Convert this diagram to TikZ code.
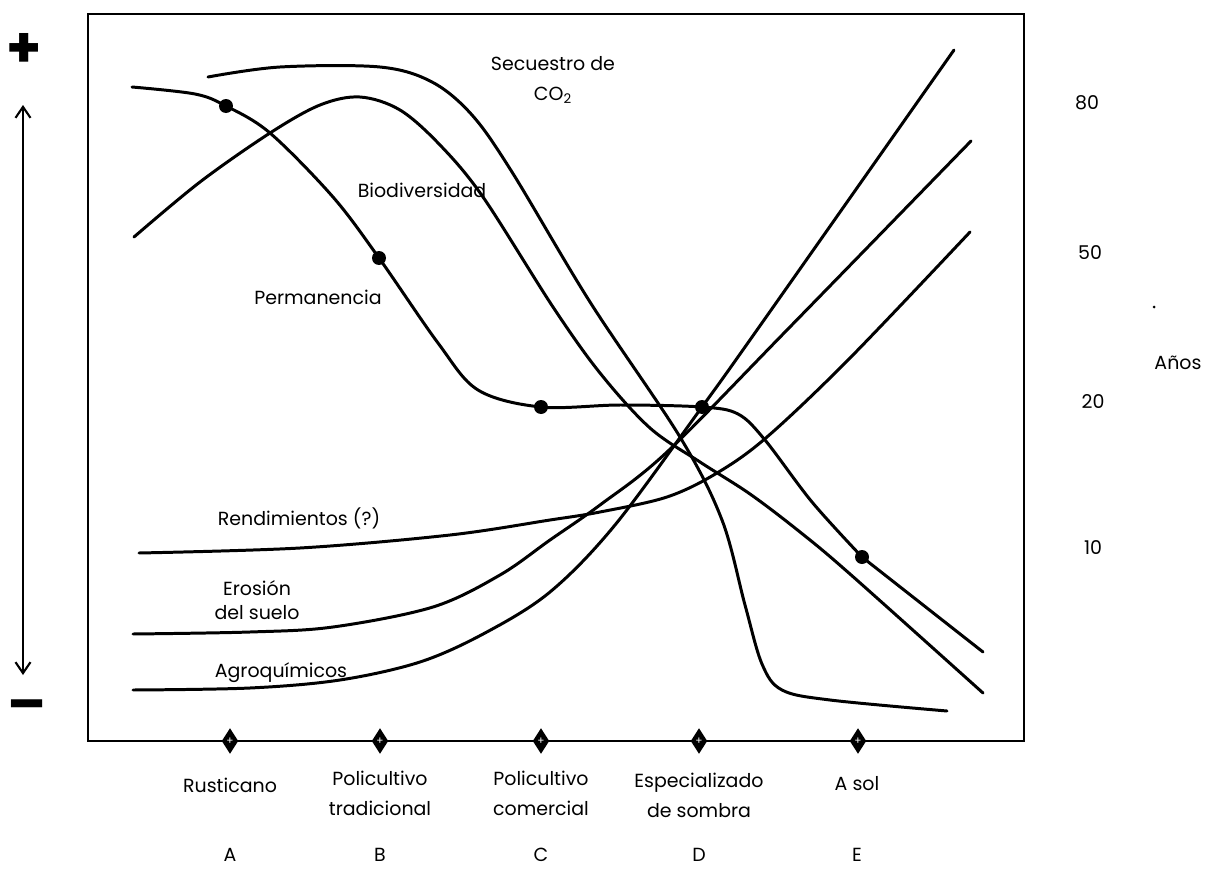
\documentclass[tikz,border=0pt]{standalone}
\usepackage{fontspec}
\setmainfont{Poppins}
\usepackage{tikz}
\usetikzlibrary{shapes.geometric}
\usetikzlibrary{arrows.meta}
\usetikzlibrary{positioning}

\begin{document}
\begin{tikzpicture}[x=0.02cm,y=-0.02cm,
	line width=1.7pt,
  curve/.style={line width=1.7pt,line cap=round,line join=round},
  dot/.style={circle,fill=black,inner sep=0pt,minimum size=0.28cm},
  tick/.style={diamond,draw,fill=black,line width=1pt,inner sep=0pt,
    minimum width=0.3cm,minimum height=0.46cm,
    font=\color{white}\fontsize{6}{6}\selectfont},
  lbl/.style={align=center,inner sep=0pt},
	font=\fontsize{10.8}{17}\selectfont]
  \useasboundingbox (0,0) rectangle (1205,869);

  \draw (88,14) rectangle (1024,741);

  \coordinate (pA) at (226,106);
  \coordinate (pB) at (379,258);
  \coordinate (pC) at (541,407);
  \coordinate (pD) at (702,407);
  \coordinate (pE) at (862,557);

  \draw[curve] plot[smooth,tension=0.55] coordinates {(132,87) (195,94) (pA)
    (270,133) (333,197) (pB) (438,343) (478,390) (pC) (620,405) (pD)
    (738,414) (765,440) (812,502) (pE)} -- (983,652);
  \draw[curve] plot[smooth,tension=0.55] coordinates {(208,77) (280,67)
    (380,67) (432,82) (472,115) (512,172) (590,302) (680,437) (722,520)
    (745,605) (762,664) (782,690) (830,700) (947,711)};
  \draw[curve] plot[smooth,tension=0.55] coordinates {(134,237) (200,182)
    (270,133) (320,105) (360,97) (400,110) (440,145) (483,197) (553,307)
    (600,373) (650,428) (700,462) (750,494) (800,532) (850,574) (983,693)};
  \draw[curve] plot[smooth,tension=0.55] coordinates {(139,553) (300,548)
    (450,535) (550,520) (600,512) (667,497) (717,473) (767,437) (850,358)
    (970,232)};
  \draw[curve] plot[smooth,tension=0.55] coordinates {(133,634) (250,632)
    (333,627) (433,607) (500,575) (550,540) (600,505) (667,452) (787,330)
    (971,141)};
  \draw[curve] plot[smooth,tension=0.55] coordinates {(133,690) (250,688)
    (340,680) (420,662) (485,633) (550,592) (615,525) (pD) (757,330)
    (954,50)};

  \foreach \p in {pA,pB,pC,pD,pE}
    \node[dot] at (\p) {};

  \node[lbl] (secuestro) at (553,80) {Secuestro de\\CO\textsubscript{2}};
  \node[lbl] (biodiv) at (422,190) {Biodiversidad};
  \node[lbl] (perman) at (318,297) {Permanencia};
  \node[lbl] (rendim) at (299,518) {Rendimientos (?)};
  \node[lbl,font=\fontsize{10.8}{14}\selectfont] (erosion) at (257,600) {Erosión\\del suelo};
  \node[lbl] (agroq) at (281,673) {Agroquímicos};

  \node (mas) at (24,50) {\fontsize{32}{32}\selectfont\bfseries +};
  \node (menos) at (27,712) {\fontsize{32}{32}\selectfont\bfseries –};
  \coordinate (arr1) at (23,105);
  \coordinate (arr2) at (23,675);
  \draw[{Straight Barb[length=0.22cm,width=0.3cm]}-{Straight Barb[length=0.22cm,width=0.3cm]},line width=1.2pt]
    (arr1) -- (arr2);

  \foreach \x/\n in {230/A,380/B,541/C,699/D,858/E}
    \node[tick] (t\n) at (\x,741) {+};

  \node[lbl] (sA) at (230,785) {Rusticano};
  \node[lbl] (sB) at (380,793) {Policultivo\\tradicional};
  \node[lbl] (sC) at (541,793) {Policultivo\\comercial};
  \node[lbl] (sD) at (699,795) {Especializado\\de sombra};
  \node[lbl] (sE) at (857,784) {A sol};
  \foreach \x/\n in {230/A,380/B,541/C,699/D,857/E}
    \node[lbl] (l\n) at (\x,855) {\n};

  \node (y80) at (1087,103) {80};
  \node (y50) at (1090,253) {50};
  \node (y20) at (1093,402) {20};
  \node (y10) at (1093,548) {10};
  \node[anchor=west,inner sep=0pt] (anos) at (1153,363) {Años};
  \fill (1154,307) circle (1.5);
\end{tikzpicture}
\end{document}
